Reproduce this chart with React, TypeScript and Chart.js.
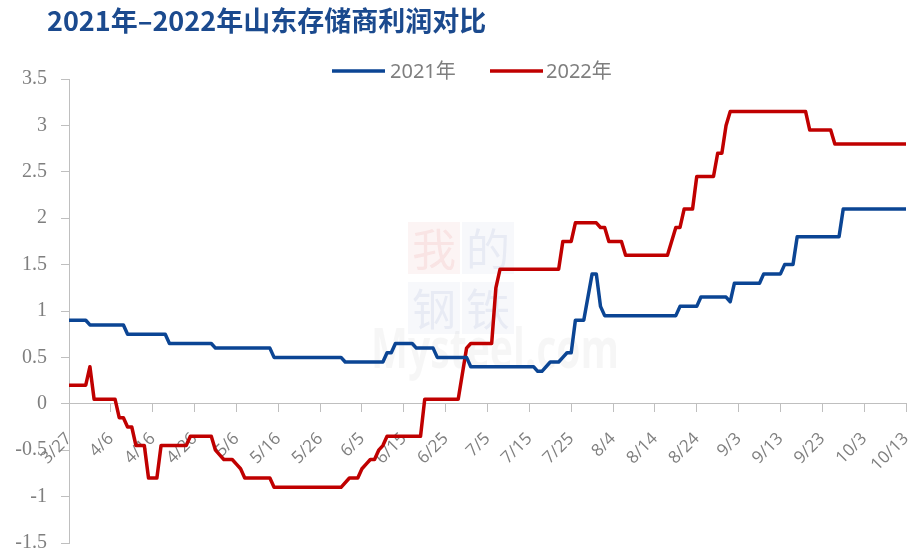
import React, { useEffect, useRef } from 'react';
import { Chart, registerables } from 'chart.js';

Chart.register(...registerables);

const TITLE = '2021年–2022年山东存储商利润对比';
const START_DATE = '3/27';
const xTickLabels = ['3/27', '4/6', '4/16', '4/26', '5/6', '5/16', '5/26', '6/5', '6/15', '6/25', '7/5', '7/15', '7/25', '8/4', '8/14', '8/24', '9/3', '9/13', '9/23', '10/3', '10/13'];
const Y_MIN = -1.5;
const Y_MAX = 3.5;
const Y_STEP = 0.5;

const seriesNames = ['2021年', '2022年'];
const seriesColors = ['#0B4594', '#C00000'];

// 2021 — dates where the value changes, and the values
const dates2021 = ['3/27', '3/31', '4/1', '4/9', '4/10', '4/19', '4/20', '4/30', '5/1', '5/14', '5/15', '5/31', '6/1', '6/10', '6/11', '6/12', '6/13', '6/17', '6/18', '6/22', '6/23', '6/30', '7/1', '7/16', '7/17', '7/18', '7/20', '7/22', '7/23', '7/24', '7/25', '7/26', '7/28', '7/30', '7/31', '8/1', '8/2', '8/19', '8/20', '8/24', '8/25', '8/31', '9/1', '9/2', '9/8', '9/9', '9/13', '9/14', '9/16', '9/17', '9/27', '9/28', '10/13'];
const values2021 = [0.9, 0.9, 0.85, 0.85, 0.75, 0.75, 0.65, 0.65, 0.6, 0.6, 0.5, 0.5, 0.45, 0.45, 0.55, 0.55, 0.65, 0.65, 0.6, 0.6, 0.5, 0.5, 0.4, 0.4, 0.35, 0.35, 0.45, 0.45, 0.5, 0.55, 0.55, 0.9, 0.9, 1.4, 1.4, 1.05, 0.95, 0.95, 1.05, 1.05, 1.15, 1.15, 1.1, 1.3, 1.3, 1.4, 1.4, 1.5, 1.5, 1.8, 1.8, 2.1, 2.1];

// 2022
const dates2022 = ['3/27', '3/31', '4/1', '4/2', '4/7', '4/8', '4/9', '4/10', '4/11', '4/12', '4/14', '4/15', '4/17', '4/18', '4/24', '4/25', '4/30', '5/1', '5/2', '5/3', '5/5', '5/6', '5/7', '5/8', '5/14', '5/15', '5/31', '6/2', '6/4', '6/5', '6/6', '6/7', '6/8', '6/9', '6/10', '6/11', '6/19', '6/20', '6/28', '6/30', '7/1', '7/6', '7/7', '7/8', '7/22', '7/23', '7/25', '7/26', '7/31', '8/1', '8/2', '8/3', '8/6', '8/7', '8/17', '8/19', '8/20', '8/21', '8/23', '8/24', '8/28', '8/29', '8/30', '8/31', '9/1', '9/19', '9/20', '9/25', '9/26', '10/13'];
const values2022 = [0.2, 0.2, 0.4, 0.05, 0.05, -0.15, -0.15, -0.25, -0.25, -0.45, -0.45, -0.8, -0.8, -0.45, -0.45, -0.35, -0.35, -0.5, -0.55, -0.6, -0.6, -0.65, -0.7, -0.8, -0.8, -0.9, -0.9, -0.8, -0.8, -0.7, -0.65, -0.6, -0.6, -0.5, -0.45, -0.35, -0.35, 0.05, 0.05, 0.6, 0.65, 0.65, 1.25, 1.45, 1.45, 1.75, 1.75, 1.95, 1.95, 1.9, 1.9, 1.75, 1.75, 1.6, 1.6, 1.9, 1.9, 2.1, 2.1, 2.45, 2.45, 2.7, 2.7, 3.0, 3.15, 3.15, 2.95, 2.95, 2.8, 2.8];

function dayIndex(md: string): number {
  const [m, d] = md.split('/').map(Number);
  const [m0, d0] = START_DATE.split('/').map(Number);
  return Math.round((Date.UTC(2022, m - 1, d) - Date.UTC(2022, m0 - 1, d0)) / 86400000);
}

function toPoints(dates: string[], values: number[]) {
  return dates.map((d, i) => ({ x: dayIndex(d), y: values[i] }));
}

const AXIS_GREY = '#BFBFBF';
const TEXT_GREY = '#7F7F7F';

const decorPlugin = {
  id: 'decor',
  beforeDatasetsDraw(chart: any) {
    const { ctx } = chart;
    ctx.save();
    // faint watermark
    ctx.textAlign = 'center';
    ctx.textBaseline = 'middle';
    ctx.fillStyle = 'rgba(200, 40, 40, 0.05)';
    ctx.fillRect(408, 222, 52, 52);
    ctx.fillStyle = 'rgba(40, 70, 160, 0.04)';
    ctx.fillRect(462, 222, 52, 52);
    ctx.fillRect(408, 282, 52, 52);
    ctx.fillRect(462, 282, 52, 52);
    ctx.font = '44px "Noto Sans CJK SC"';
    ctx.fillStyle = 'rgba(200, 40, 40, 0.08)';
    ctx.fillText('我', 434, 249);
    ctx.fillStyle = 'rgba(40, 70, 160, 0.07)';
    ctx.fillText('的', 488, 249);
    ctx.fillText('钢', 434, 309);
    ctx.fillText('铁', 488, 309);
    ctx.translate(495, 352);
    ctx.scale(0.7, 1);
    ctx.font = 'bold 56px "Open Sans"';
    ctx.fillStyle = 'rgba(0, 0, 0, 0.035)';
    ctx.fillText('Mysteel.com', 0, 0);
    ctx.restore();
  },
  afterDraw(chart: any) {
    const { ctx } = chart;
    ctx.save();
    // title
    ctx.font = 'bold 27px "Noto Sans CJK SC"';
    ctx.fillStyle = '#1B4A8E';
    ctx.textAlign = 'left';
    ctx.textBaseline = 'middle';
    ctx.fillText(TITLE, 47, 21);
    // legend
    const items = [
      { x: 332, textX: 390 },
      { x: 490, textX: 546 },
    ];
    chart.data.datasets.forEach((ds: any, i: number) => {
      const it = items[i];
      ctx.strokeStyle = ds.borderColor;
      ctx.lineWidth = 3.5;
      ctx.beginPath();
      ctx.moveTo(it.x, 71);
      ctx.lineTo(it.x + 53, 71);
      ctx.stroke();
      ctx.font = '20px "Noto Sans", "Noto Sans CJK SC"';
      ctx.fillStyle = TEXT_GREY;
      ctx.textBaseline = 'middle';
      ctx.fillText(ds.label, it.textX, 72);
    });
    ctx.restore();
  },
};

export default function App() {
  const canvasRef = useRef<HTMLCanvasElement | null>(null);

  useEffect(() => {
    const canvas = canvasRef.current;
    if (!canvas) return;
    const tickValues = xTickLabels.map(dayIndex);
    const chart = new Chart(canvas, {
      type: 'line',
      data: {
        datasets: [
          {
            label: seriesNames[0],
            data: toPoints(dates2021, values2021),
            borderColor: seriesColors[0],
            backgroundColor: seriesColors[0],
            borderWidth: 3.5,
            pointRadius: 0,
            tension: 0,
            borderJoinStyle: 'round',
          },
          {
            label: seriesNames[1],
            data: toPoints(dates2022, values2022),
            borderColor: seriesColors[1],
            backgroundColor: seriesColors[1],
            borderWidth: 3.5,
            pointRadius: 0,
            tension: 0,
            borderJoinStyle: 'round',
          },
        ],
      },
      options: {
        responsive: false,
        animation: false,
        layout: { padding: { left: 0, top: 79, right: 9, bottom: 12 } },
        plugins: {
          legend: { display: false },
          title: { display: false },
          tooltip: { enabled: false },
        },
        scales: {
          x: {
            type: 'linear',
            position: { y: 0 },
            min: tickValues[0],
            max: tickValues[tickValues.length - 1],
            afterBuildTicks: (scale: any) => {
              scale.ticks = tickValues.map((v) => ({ value: v }));
            },
            afterFit: (scale: any) => {
              scale.paddingLeft = 0;
              scale.paddingRight = 0;
              scale.paddingTop = 0;
              scale.paddingBottom = 0;
            },
            ticks: {
              autoSkip: false,
              minRotation: 45,
              maxRotation: 45,
              padding: 17,
              color: TEXT_GREY,
              font: { family: '"Open Sans", "Noto Sans"', size: 17 },
              callback: (value: any) => {
                const idx = tickValues.indexOf(Number(value));
                return idx >= 0 ? xTickLabels[idx] : '';
              },
            },
            grid: {
              display: true,
              drawOnChartArea: false,
              drawTicks: true,
              tickLength: 8,
              color: AXIS_GREY,
            },
            border: { display: true, color: AXIS_GREY, width: 1 },
          },
          y: {
            type: 'linear',
            min: Y_MIN,
            max: Y_MAX,
            afterFit: (scale: any) => {
              scale.width = 69;
              scale.paddingTop = 0;
              scale.paddingBottom = 0;
            },
            ticks: {
              stepSize: Y_STEP,
              padding: 14,
              color: TEXT_GREY,
              font: { family: '"Liberation Serif", "DejaVu Serif", serif', size: 20 },
              callback: (value: any) => String(Math.round(Number(value) * 10) / 10),
            },
            grid: {
              display: true,
              drawOnChartArea: false,
              drawTicks: true,
              tickLength: 8,
              color: AXIS_GREY,
            },
            border: { display: true, color: AXIS_GREY, width: 1 },
          },
        },
      },
      plugins: [decorPlugin],
    } as any);
    return () => chart.destroy();
  }, []);

  return (
    <div style={{ position: 'fixed', left: 0, top: 0, width: 915, height: 555, background: '#fff' }}>
      <canvas ref={canvasRef} width={915} height={555} style={{ display: 'block', width: 915, height: 555 }} />
    </div>
  );
}
